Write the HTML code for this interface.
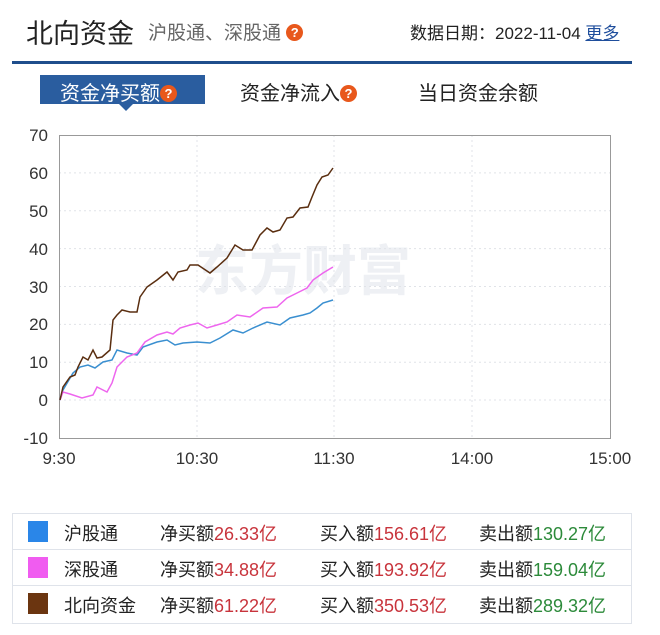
<!DOCTYPE html>
<html><head><meta charset="utf-8"><style>
body{margin:0;width:660px;height:635px;background:#fff;position:relative;font-family:"Liberation Sans","Noto Sans CJK SC",sans-serif;overflow:hidden}
.a{position:absolute;white-space:nowrap}
.q{display:inline-block;width:17px;height:17px;border-radius:50%;background:#e8581c;color:#fff;font-size:13px;font-weight:bold;text-align:center;line-height:17px;vertical-align:2px}
.row{position:absolute;left:12px;width:620px;height:35px;border-bottom:1px solid #dfe3ea;font-size:18px;color:#222}
.row span.c{position:absolute;top:6px;white-space:nowrap}
.r{color:#c8343c}.g{color:#2c8a3a}
.sw{position:absolute;left:16px;top:7px;width:20px;height:21px}
</style></head><body>
<div class="a" style="left:26px;top:12px;font-size:27px;color:#222">北向资金</div>
<div class="a" style="left:148px;top:18px;font-size:19px;color:#666">沪股通、深股通 <span class="q">?</span></div>
<div class="a" style="left:410px;top:19px;font-size:17px;color:#222">数据日期：2022-11-04 <span style="color:#1f4e9c;text-decoration:underline">更多</span></div>
<div class="a" style="left:12px;top:61px;width:620px;height:3px;background:#1f4e8c"></div>
<div class="a" style="left:40px;top:75px;width:165px;height:29px;background:#2a5d9f"></div>
<div class="a" style="left:118px;top:103px;width:0;height:0;border-left:8px solid transparent;border-right:8px solid transparent;border-top:8px solid #2a5d9f"></div>
<div class="a" style="left:60px;top:77px;font-size:20px;color:#fff">资金净买额<span class="q">?</span></div>
<div class="a" style="left:240px;top:77px;font-size:20px;color:#222">资金净流入<span class="q">?</span></div>
<div class="a" style="left:418px;top:77px;font-size:20px;color:#222">当日资金余额</div>
<svg class="a" style="left:0;top:0" width="660" height="500">
<text x="195" y="290" font-size="54" font-weight="bold" fill="#eef0f4" font-family="Noto Sans CJK SC,sans-serif">东方财富</text>
<g stroke="#e0e3e8" stroke-dasharray="2,3" stroke-width="1">
<line x1="59" x2="610" y1="172.9" y2="172.9"/><line x1="59" x2="610" y1="210.8" y2="210.8"/><line x1="59" x2="610" y1="248.6" y2="248.6"/><line x1="59" x2="610" y1="286.5" y2="286.5"/><line x1="59" x2="610" y1="324.4" y2="324.4"/><line x1="59" x2="610" y1="362.3" y2="362.3"/><line x1="59" x2="610" y1="400" y2="400"/>
<line x1="197" x2="197" y1="135" y2="438"/><line x1="334" x2="334" y1="135" y2="438"/><line x1="472" x2="472" y1="135" y2="438"/>
</g>
<rect x="59.5" y="135.5" width="551" height="303" fill="none" stroke="#999"/>
<g font-size="17" fill="#333" text-anchor="end">
<text x="48" y="141">70</text><text x="48" y="179">60</text><text x="48" y="217">50</text><text x="48" y="255">40</text><text x="48" y="293">30</text><text x="48" y="330">20</text><text x="48" y="368">10</text><text x="48" y="406">0</text><text x="48" y="444">-10</text>
</g>
<g font-size="17" fill="#333" text-anchor="middle">
<text x="59" y="464">9:30</text><text x="197" y="464">10:30</text><text x="334" y="464">11:30</text><text x="472" y="464">14:00</text><text x="610" y="464">15:00</text>
</g>
<polyline fill="none" stroke="#3a8fd0" stroke-width="1.5" points="60,400 63,390 73,373 80,367 88,365 95,368 103,362 112,360 117,350 127,353 137,355 143,347 157,342 167,340 175,345 183,343 197,342 210,343 220,338 233,330 243,333 253,328 267,322 280,325 290,318 303,315 310,313 317,308 323,303 333,300"/>
<polyline fill="none" stroke="#ee66ee" stroke-width="1.5" points="60,400 63,392 70,394 82,398 93,395 97,387 107,392 112,383 117,367 127,357 137,353 145,342 157,335 167,332 173,334 180,328 190,325 198,323 207,328 217,325 227,322 237,315 250,317 263,308 277,307 287,298 297,293 307,288 313,280 323,273 333,267"/>
<polyline fill="none" stroke="#5a2e10" stroke-width="1.5" points="60,400 63,387 70,377 75,375 78,367 83,357 88,360 93,350 97,358 102,357 110,350 113,320 117,315 122,310 130,312 137,312 140,297 147,287 157,280 167,272 173,280 178,272 187,270 190,265 198,265 210,273 217,267 227,258 235,245 243,250 252,250 260,235 267,228 273,232 280,230 287,218 293,217 300,208 308,207 312,197 317,185 322,177 328,175 333,168"/>
</svg>
<div class="a" style="left:12px;top:513px;width:620px;height:111px;border:1px solid #dfe3ea;box-sizing:border-box"></div>
<div class="row" style="top:514px"><i class="sw" style="background:#2a86e8"></i><span class="c" style="left:52px">沪股通</span><span class="c" style="left:148px">净买额<span class="r">26.33亿</span></span><span class="c" style="left:308px">买入额<span class="r">156.61亿</span></span><span class="c" style="left:467px">卖出额<span class="g">130.27亿</span></span></div>
<div class="row" style="top:550px"><i class="sw" style="background:#f05cf0"></i><span class="c" style="left:52px">深股通</span><span class="c" style="left:148px">净买额<span class="r">34.88亿</span></span><span class="c" style="left:308px">买入额<span class="r">193.92亿</span></span><span class="c" style="left:467px">卖出额<span class="g">159.04亿</span></span></div>
<div class="row" style="top:586px;border-bottom:none"><i class="sw" style="background:#6b3510"></i><span class="c" style="left:52px">北向资金</span><span class="c" style="left:148px">净买额<span class="r">61.22亿</span></span><span class="c" style="left:308px">买入额<span class="r">350.53亿</span></span><span class="c" style="left:467px">卖出额<span class="g">289.32亿</span></span></div>
</body></html>
